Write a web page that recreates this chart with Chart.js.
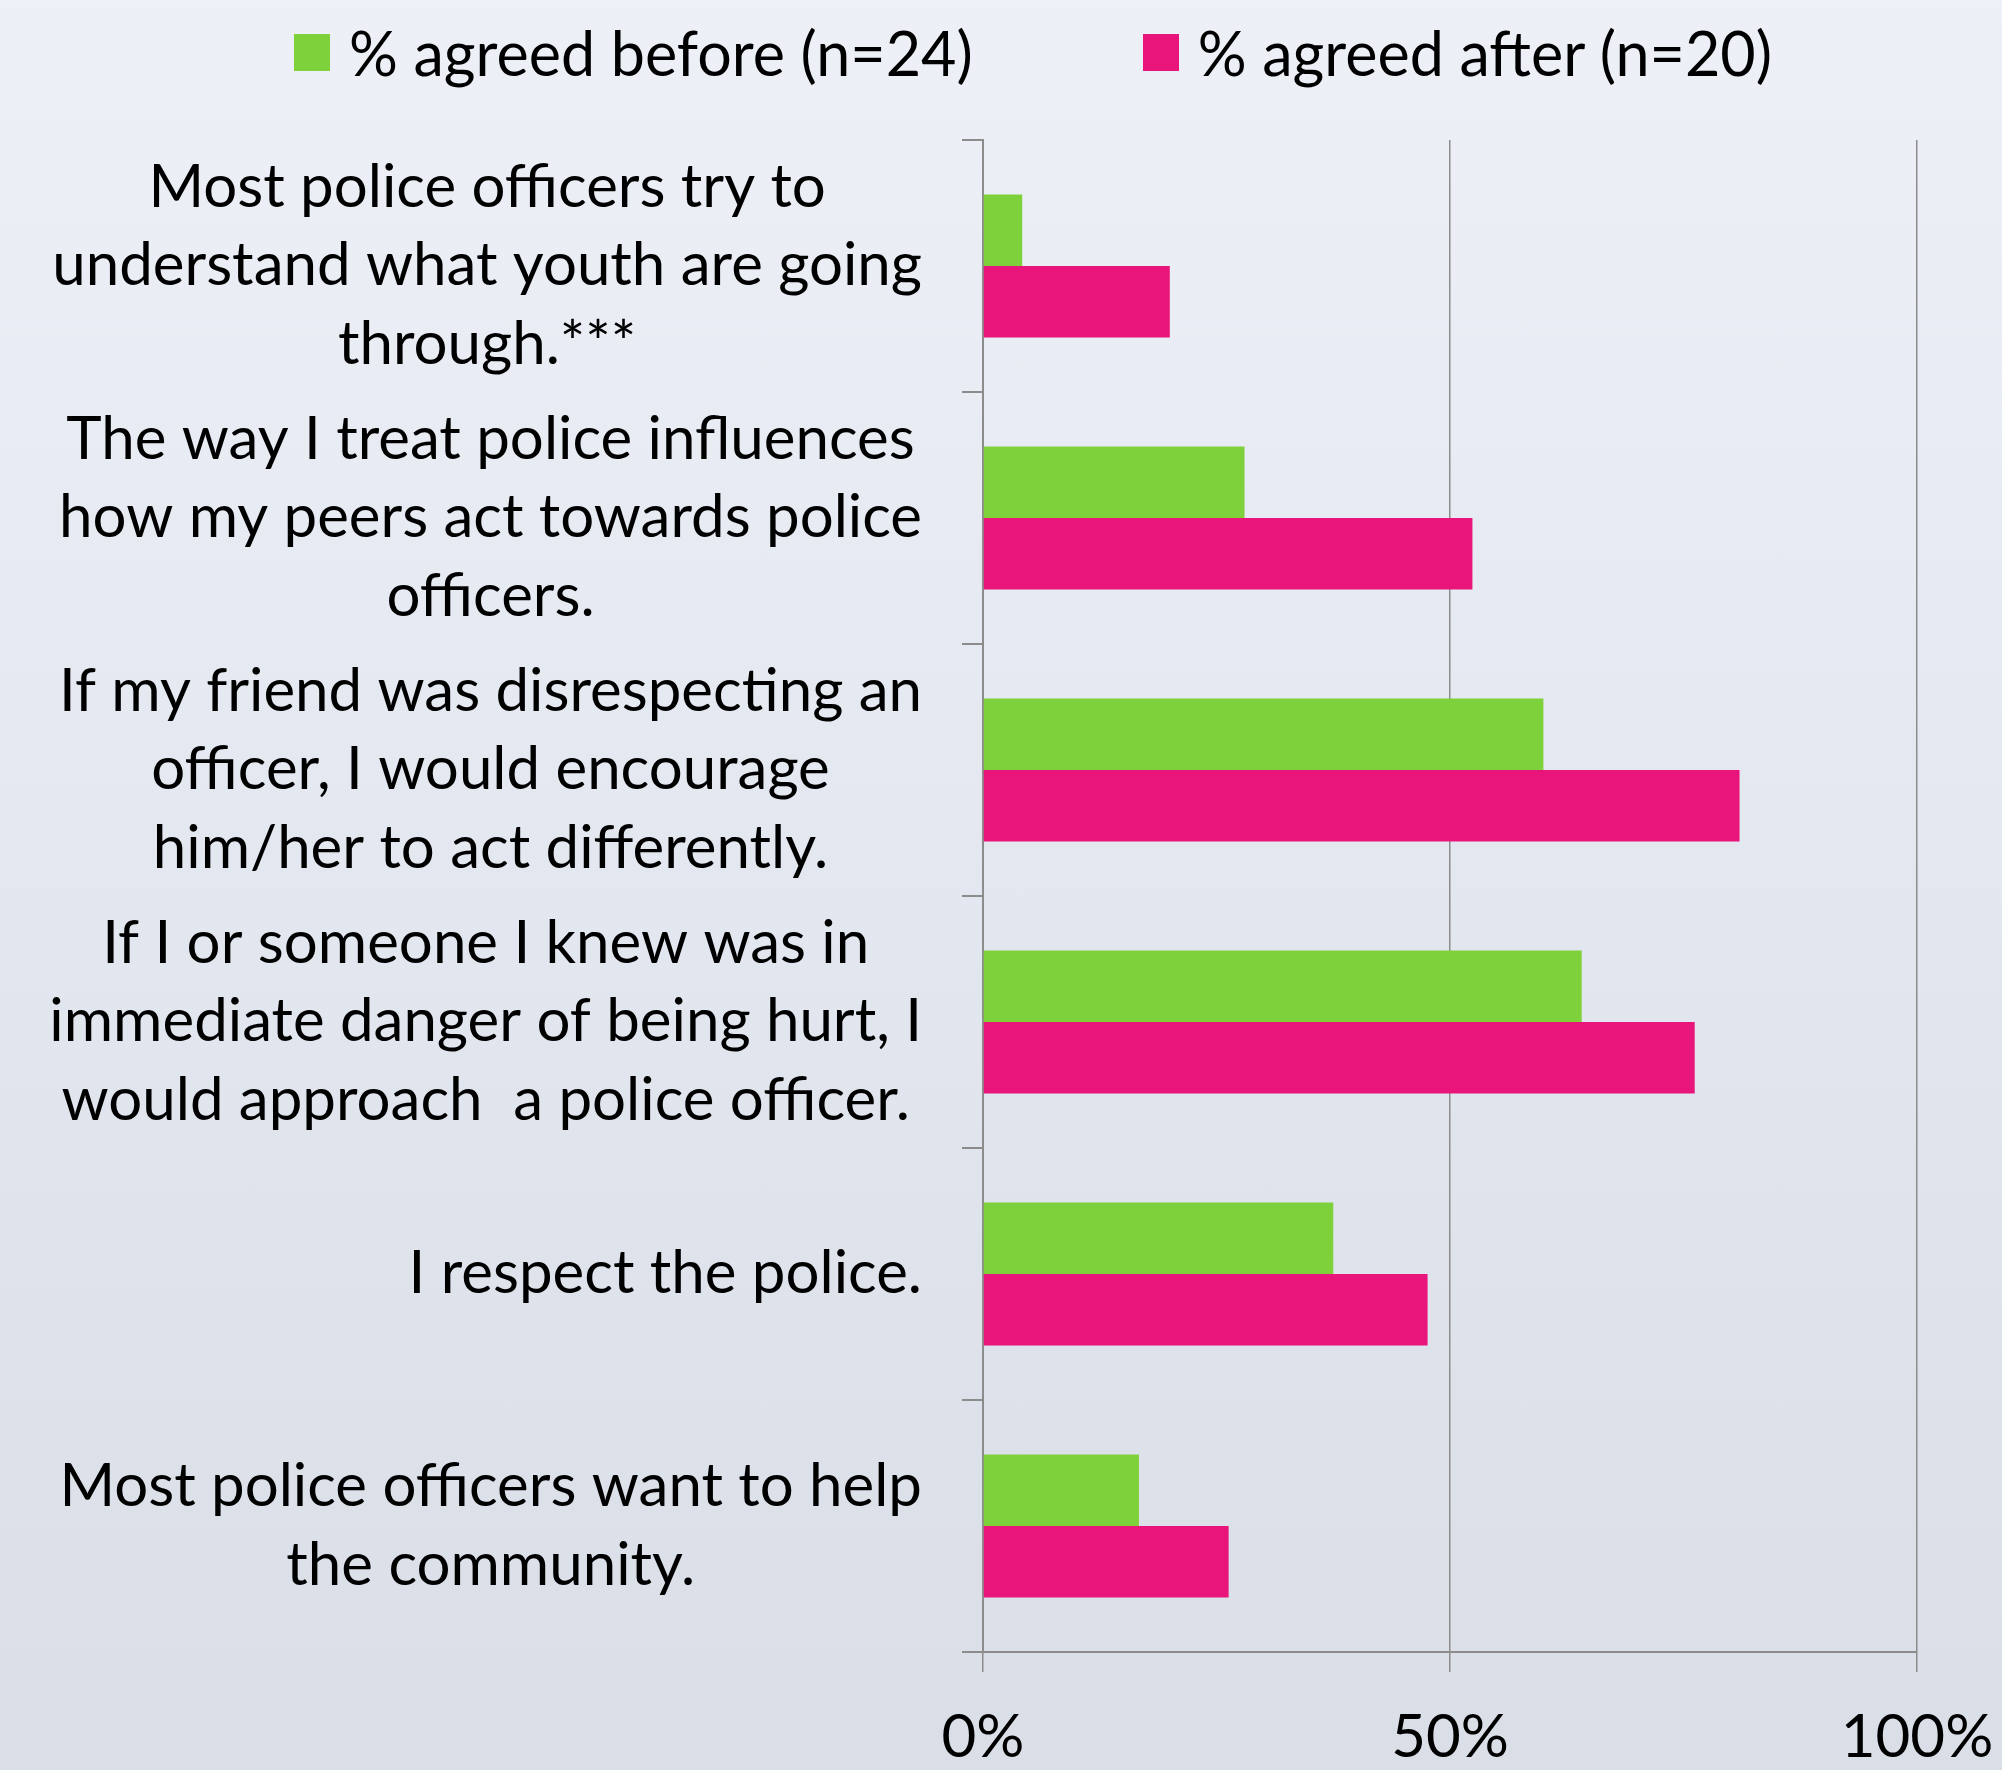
<!DOCTYPE html>
<html>
<head>
<meta charset="utf-8">
<script src="https://cdn.jsdelivr.net/npm/chart.js@4.4.1/dist/chart.umd.min.js"></script>
<style>
  html, body { margin: 0; padding: 0; }
  body {
    width: 2002px; height: 1770px; overflow: hidden;
    background: linear-gradient(to bottom, #edf0f7 0%, #d9dee7 100%);
    font-family: Lato, sans-serif;
  }
  #wrap { position: relative; width: 2002px; height: 1770px; }
  #legend {
    position: absolute; left: 0; top: 0; width: 2002px; height: 104px;
    display: flex; justify-content: center; align-items: center;
    padding-left: 64px; box-sizing: border-box; gap: 170px;
  }
  .item { display: flex; align-items: center; font-size: 61px; color: #000; white-space: pre; }
  .box { width: 36px; height: 37px; margin-right: 19px; }
  canvas { position: absolute; left: 0; top: 0; }
</style>
</head>
<body>
<div id="wrap">
  <div id="legend"></div>
  <canvas id="chart" width="2002" height="1770"></canvas>
</div>
<script>
// survey statements (one array per label, one entry per line)
const categories = [
  ['Most police officers try to', 'understand what youth are going', 'through.***'],
  ['The way I treat police influences', 'how my peers act towards police', 'officers.'],
  ['If my friend was disrespecting an', 'officer, I would encourage', 'him/her to act differently.'],
  ['If I or someone I knew was in', 'immediate danger of being hurt, I', 'would approach  a police officer.'],
  ['I respect the police.'],
  ['Most police officers want to help', 'the community.']
];
const seriesNames = ['% agreed before (n=24)', '% agreed after (n=20)'];
const beforeValues = [4.2, 28.0, 60.0, 64.1, 37.5, 16.7];
const afterValues = [20.0, 52.4, 81.0, 76.2, 47.6, 26.3];
const xTickValues = [0, 50, 100];

const FONT = 'Lato';
const FONT_SIZE = 60;
const LINE_H = 78.5;
const GREEN = '#7fd13b';
const PINK = '#ea157a';
const AXIS = '#8c8c8c';

// multi-line labels: lines centred on each other, block right-aligned to the axis
const yLabels = {
  id: 'yLabels',
  afterDraw(chart) {
    const ctx = chart.ctx;
    const y = chart.scales.y;
    ctx.save();
    ctx.font = FONT_SIZE + 'px ' + FONT;
    ctx.fillStyle = '#000';
    ctx.textAlign = 'center';
    ctx.textBaseline = 'middle';
    chart.data.labels.forEach((lines, i) => {
      const w = Math.max(...lines.map(l => ctx.measureText(l).width));
      const cx = y.right - 61 - w / 2;
      const cy = y.getPixelForTick(i);
      lines.forEach((l, j) => {
        ctx.fillText(l, cx, cy + (j - (lines.length - 1) / 2) * LINE_H);
      });
    });
    ctx.restore();
  }
};

// html legend built from the datasets
const htmlLegend = {
  id: 'htmlLegend',
  afterUpdate(chart) {
    const el = document.getElementById('legend');
    el.innerHTML = '';
    chart.data.datasets.forEach(ds => {
      const item = document.createElement('div');
      item.className = 'item';
      const box = document.createElement('span');
      box.className = 'box';
      box.style.background = ds.backgroundColor;
      item.appendChild(box);
      item.appendChild(document.createTextNode(ds.label));
      el.appendChild(item);
    });
  }
};

new Chart(document.getElementById('chart'), {
  type: 'bar',
  data: {
    labels: categories,
    datasets: [
      { label: seriesNames[0], data: beforeValues, backgroundColor: GREEN },
      { label: seriesNames[1], data: afterValues, backgroundColor: PINK }
    ]
  },
  options: {
    indexAxis: 'y',
    responsive: false,
    animation: false,
    categoryPercentage: 0.567,
    barPercentage: 1.0,
    layout: { padding: { top: 140, right: 85, left: 0, bottom: 0 } },
    plugins: {
      legend: { display: false },
      tooltip: { enabled: false }
    },
    scales: {
      x: {
        min: 0,
        max: 100,
        afterBuildTicks: s => { s.ticks = xTickValues.map(v => ({ value: v })); },
        afterFit: s => { s.height = 118; s.paddingLeft = 0; s.paddingRight = 0; },
        grid: { color: AXIS, lineWidth: 1.5, tickLength: 20, drawTicks: true },
        border: { color: AXIS, width: 2 },
        ticks: {
          color: '#000',
          padding: 30,
          font: { family: FONT, size: FONT_SIZE },
          callback: v => v + '%'
        }
      },
      y: {
        afterFit: s => { s.width = 983; },
        grid: { drawOnChartArea: false, drawTicks: true, tickLength: 21, color: AXIS, lineWidth: 2 },
        border: { color: AXIS, width: 2 },
        ticks: { display: false }
      }
    }
  },
  plugins: [yLabels, htmlLegend]
});
</script>
</body>
</html>
